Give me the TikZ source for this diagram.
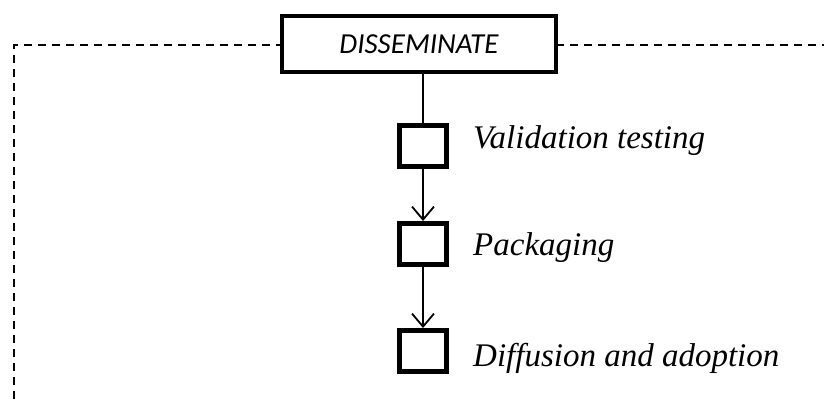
\documentclass[tikz,border=0pt]{standalone}
\usepackage{fontspec}
\setmainfont{Liberation Serif}
\newfontfamily\calib{Carlito}
\usetikzlibrary{arrows.meta}
\begin{document}
\begin{tikzpicture}[x=1pt,y=-1pt,
  dashline/.style={line width=1.8pt,dash pattern=on 8pt off 6pt},
  mainbox/.style={draw,line width=4.5pt,minimum width=274pt,minimum height=56pt,inner sep=0pt,fill=white,font=\calib\itshape\fontsize{29}{32}\selectfont},
  stepbox/.style={draw,line width=5pt,minimum width=47pt,minimum height=41pt,inner sep=0pt},
  lbl/.style={anchor=west,font=\itshape\fontsize{33}{36}\selectfont,inner sep=0pt},
  conn/.style={line width=1.8pt},
  arr/.style={line width=1.8pt,-{Straight Barb[length=13pt,width=22pt,line width=1.8pt]}}]
\useasboundingbox (0,0) rectangle (824,399);
\coordinate (tl) at (14,45);
\coordinate (tr) at (824,45);
\coordinate (bl) at (14,399);
\draw[dashline] (bl) -- (tl) -- (tr);
\node[mainbox] (dis) at (419,44) {DISSEMINATE};
\node[stepbox] (s1) at (423,146) {};
\node[stepbox] (s2) at (423,244) {};
\node[stepbox] (s3) at (423,351) {};
\draw[conn] (dis.south -| s1) -- (s1.north);
\draw[arr] (s1.south) -- (s2.north);
\draw[arr] (s2.south) -- (s3.north);
\node[lbl] (l1) at (473,141) {Validation testing};
\node[lbl] (l2) at (473,248) {Packaging};
\node[lbl] (l3) at (473,358) {Diffusion and adoption};
\end{tikzpicture}
\end{document}
